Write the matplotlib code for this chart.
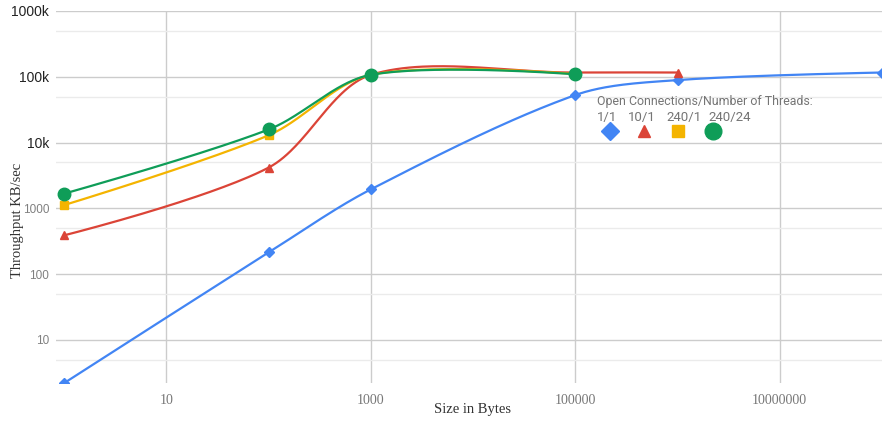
import numpy as np
import matplotlib
matplotlib.use('Agg')
import matplotlib.pyplot as plt
from matplotlib.ticker import FixedLocator, NullFormatter

# Throughput measurements (KB/sec) for each message size (bytes)
sizes_1_1 = [1, 100, 1000, 100000, 1000000, 100000000]
thru_1_1 = [2.2, 213, 1940, 52700, 89000, 116000]

sizes_10_1 = [1, 100, 1000, 100000, 1000000]
thru_10_1 = [388, 4160, 107000, 116000, 116000]

sizes_240_1 = [1, 100, 1000, 100000]
thru_240_1 = [1120, 12900, 107000, 110000]

sizes_240_24 = [1, 100, 1000, 100000]
thru_240_24 = [1670, 15800, 107000, 109000]

series_labels = ['1/1', '10/1', '240/1', '240/24']
legend_title = 'Open Connections/Number of Threads:'

y_ticks = [10, 100, 1000, 10000, 100000, 1000000]
y_tick_labels = ['10', '100', '1000', '10k', '100k', '1000k']
y_minor = [5, 50, 500, 5000, 50000, 500000]
x_ticks = [10, 1000, 100000, 10000000]
x_tick_labels = ['10', '1000', '100000', '10000000']

# pixels per decade on each axis, used so the curve smoothing works in screen space
PX_X = 102.3
PX_Y = 65.8


def smooth(xs, ys, s=0.32, n=60):
    # bezier curve through the points, control points scaled by neighbouring segment lengths
    p = np.column_stack([np.log10(xs) * PX_X, np.log10(ys) * PX_Y])
    k = len(p)
    before = p.copy()
    after = p.copy()
    for i in range(1, k - 1):
        d0 = np.hypot(*(p[i] - p[i - 1]))
        d1 = np.hypot(*(p[i + 1] - p[i]))
        direction = p[i + 1] - p[i - 1]
        before[i] = p[i] - direction * s * d0 / (d0 + d1)
        after[i] = p[i] + direction * s * d1 / (d0 + d1)
    t = np.linspace(0, 1, n)[:, None]
    out = []
    for i in range(k - 1):
        seg = ((1 - t) ** 3 * p[i] + 3 * (1 - t) ** 2 * t * after[i]
               + 3 * (1 - t) * t ** 2 * before[i + 1] + t ** 3 * p[i + 1])
        out.append(seg if i == 0 else seg[1:])
    out = np.vstack(out)
    return 10 ** (out[:, 0] / PX_X), 10 ** (out[:, 1] / PX_Y)


def main():
    fig = plt.figure(figsize=(8.82, 4.21), dpi=100)
    ax = fig.add_axes([56 / 882, 1 - 383 / 421, 1 - 56 / 882, 372 / 421])
    ax.set_xscale('log')
    ax.set_yscale('log')
    ax.set_xlim(0.83, 1.0e8)
    ax.set_ylim(2.2, 1.0e6)

    series = [
        (sizes_1_1, thru_1_1, '#4285F4', 'D', 5.5),
        (sizes_10_1, thru_10_1, '#DB4437', '^', 6),
        (sizes_240_1, thru_240_1, '#F4B400', 's', 6),
        (sizes_240_24, thru_240_24, '#0F9D58', 'o', 9),
    ]
    for xs, ys, c, m, ms in series:
        sx, sy = smooth(xs, ys)
        ax.plot(sx, sy, c=c, lw=1.6, zorder=3)
        ax.plot(xs, ys, ls='none', marker=m, ms=ms, c=c, mec=c, zorder=4)

    # grid
    ax.yaxis.set_major_locator(FixedLocator(y_ticks))
    ax.yaxis.set_minor_locator(FixedLocator(y_minor))
    ax.yaxis.set_minor_formatter(NullFormatter())
    ax.set_yticklabels(y_tick_labels)
    ax.xaxis.set_major_locator(FixedLocator(x_ticks))
    ax.xaxis.set_minor_locator(FixedLocator([]))
    ax.set_xticklabels(x_tick_labels)
    ax.grid(True, which='major', color='#cccccc', lw=1)
    ax.grid(True, which='minor', axis='y', color='#ebebeb', lw=1)
    ax.set_axisbelow(True)
    for s in ax.spines.values():
        s.set_visible(False)
    ax.tick_params(which='both', length=0)
    ax.tick_params(axis='y', pad=5)
    ax.tick_params(axis='x', pad=8)

    for lbl in ax.get_yticklabels():
        lbl.set_fontfamily('Liberation Sans')
        if lbl.get_text().endswith('k'):
            lbl.set_fontsize(10)
            lbl.set_color('#222222')
        else:
            lbl.set_fontsize(8.5)
            lbl.set_color('#808080')
    for lbl in ax.get_xticklabels():
        lbl.set_fontfamily('Liberation Serif')
        lbl.set_fontsize(10)
        lbl.set_color('#777777')

    fig.text(473 / 882, 1 - 410 / 421, 'Size in Bytes', family='Liberation Serif',
             fontsize=10.5, color='#333333', ha='center', va='center')
    fig.text(18 / 882, 1 - 220 / 421, 'Throughput KB/sec', family='Liberation Serif',
             fontsize=10.5, color='#333333', ha='center', va='center', rotation=90)

    # legend: title, labels row, markers row
    fig.text(597 / 882, 1 - 101 / 421, legend_title, family='Roboto',
             fontsize=8.9, color='#757575', ha='left', va='center')
    label_x = [597, 628, 666, 708]
    marker_x = [610, 644, 678, 713]
    marker_ms = [9, 9, 8.5, 12]
    for lx, mx, lab, (_, _, c, m, _), ms in zip(label_x, marker_x, series_labels, series, marker_ms):
        fig.text(lx / 882, 1 - 117 / 421, lab, family='Roboto', fontsize=9.5,
                 color='#757575', ha='left', va='center')
        fig.lines.append(plt.Line2D([mx / 882], [1 - 131 / 421], transform=fig.transFigure,
                                    ls='none', marker=m, ms=ms, c=c, mec=c))

    plt.savefig('out.png', dpi=100)


if __name__ == '__main__':
    main()
